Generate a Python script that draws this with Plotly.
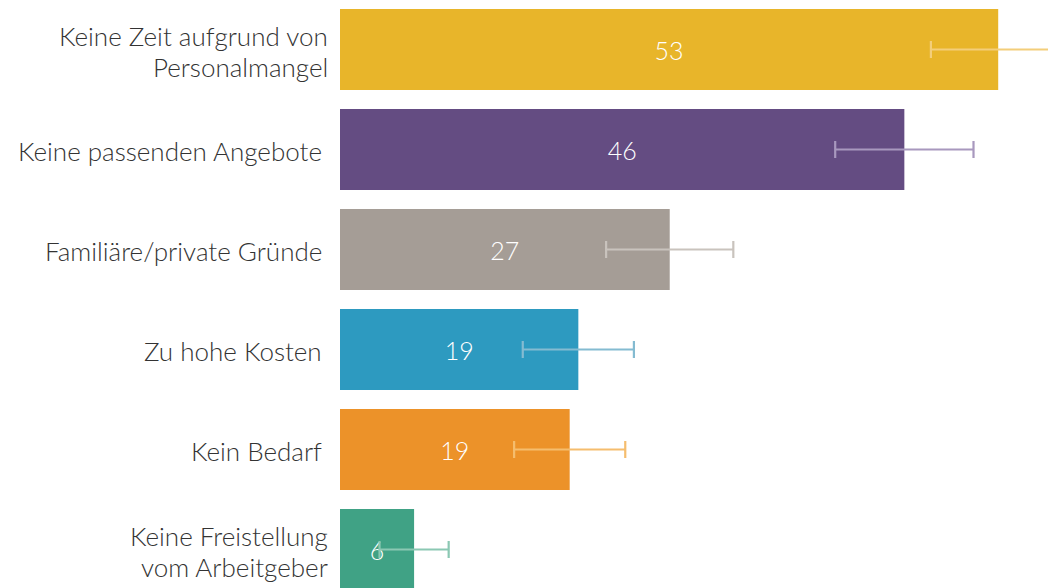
import plotly.graph_objects as go

categories = [
    "Keine Zeit aufgrund von<br>Personalmangel",
    "Keine passenden Angebote",
    "Familiäre/private Gründe",
    "Zu hohe Kosten",
    "Kein Bedarf",
    "Keine Freistellung<br>vom Arbeitgeber",
]
values = [53.3, 45.7, 26.7, 19.3, 18.6, 6.0]
errors = [5.45, 5.6, 5.15, 4.5, 4.5, 2.8]
bar_colors = ["#E8B52A", "#644C82", "#A59D96", "#2D9AC0", "#EC9229", "#40A285"]
err_colors = ["#F3CE7A", "#A898BE", "#C9C3BD", "#84BBD1", "#F5BD6E", "#8BC8B3"]

FONT = "Lato"
LABEL_SIZE = 26
fig = go.Figure()
for i, (cat, v, e) in enumerate(zip(categories, values, errors)):
    fig.add_trace(go.Bar(
        x=[v], y=[i], orientation="h", width=0.81,
        marker=dict(color=bar_colors[i], line=dict(width=0)),
        error_x=dict(type="data", array=[e], visible=True,
                     color=err_colors[i], thickness=2.2, width=8.5),
        text=[f"{v:.0f}"], textposition="inside", insidetextanchor="middle",
        textangle=0, constraintext="none",
        textfont=dict(family=FONT, size=25, color="white", weight=300),
        showlegend=False, hoverinfo="skip",
    ))

# category labels as right-aligned text next to each bar (one annotation per line)
for i, cat in enumerate(categories):
    lines = cat.split("<br>")
    if len(lines) == 1:
        shifts, xs = [-1.8], -17
    else:
        shifts, xs = [14.0, -17.6], -11
    for line, ys in zip(lines, shifts):
        fig.add_annotation(
            text=line, xref="paper", x=0, xanchor="right", xshift=xs,
            yref="y", y=i, yanchor="middle", yshift=ys,
            showarrow=False, borderpad=0,
            font=dict(family=FONT, size=LABEL_SIZE, color="#333333", weight=300),
        )

fig.update_layout(
    width=1048, height=580,
    margin=dict(l=332, r=0, t=0, b=0),
    paper_bgcolor="white", plot_bgcolor="white",
    barmode="overlay",
    font=dict(family=FONT),
)
fig.update_xaxes(range=[0, 57.98], visible=False, showgrid=False, zeroline=False)
fig.update_yaxes(
    range=[5.385, -0.415], showgrid=False, zeroline=False, showline=False,
    showticklabels=False, ticks="",
)
fig.write_html("out.html")
